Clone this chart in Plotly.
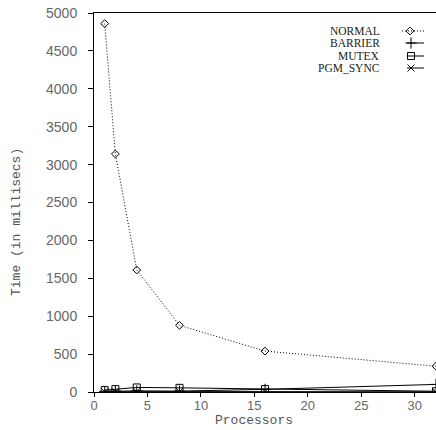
import plotly.graph_objects as go

processors = [1, 2, 4, 8, 16, 32]
series_names = ["NORMAL", "BARRIER", "MUTEX", "PGM_SYNC"]
normal = [4860, 3140, 1610, 880, 540, 340]
barrier = [8, 12, 15, 12, 35, 100]
mutex = [25, 38, 60, 55, 38, 10]
pgm_sync = [3, 4, 6, 5, 5, 3]

styles = {
    "NORMAL": dict(symbol="diamond-open", size=6, dash="1px,2px"),
    "BARRIER": dict(symbol="cross-thin-open", size=8, dash="solid"),
    "MUTEX": dict(symbol="square-open", size=7, dash="solid"),
    "PGM_SYNC": dict(symbol="x-thin-open", size=7, dash="solid"),
}
values = {"NORMAL": normal, "BARRIER": barrier, "MUTEX": mutex, "PGM_SYNC": pgm_sync}

# plot area in pixels
L, R, T, B = 94, 436, 13, 392


def px(xp):
    return (xp - L) / (R - L)


def py(yp):
    return (B - yp) / (B - T)


fig = go.Figure()
for name in series_names:
    st = styles[name]
    fig.add_trace(go.Scatter(
        x=processors, y=values[name], mode="lines+markers", name=name,
        line=dict(color="black", width=1, dash=st["dash"]),
        marker=dict(symbol=st["symbol"], size=st["size"], color="black",
                    line=dict(color="black", width=1)),
        showlegend=False,
    ))

# custom legend (text on the left, sample on the right)
legend_rows = [31, 43, 56, 68]
for name, yy in zip(series_names, legend_rows):
    st = styles[name]
    x0 = 402 if name == "NORMAL" else 407
    fig.add_trace(go.Scatter(
        x=[px(x0), px(424)], y=[py(yy), py(yy)], xaxis="x2", yaxis="y2", mode="lines",
        line=dict(color="black", width=1, dash=st["dash"]), showlegend=False, hoverinfo="skip"))
    fig.add_trace(go.Scatter(
        x=[px(411 if name != "NORMAL" else 410)], y=[py(yy)], xaxis="x2", yaxis="y2",
        mode="markers",
        marker=dict(symbol=st["symbol"], size=st["size"], color="black",
                    line=dict(color="black", width=1)),
        showlegend=False, hoverinfo="skip"))
    fig.add_annotation(x=px(382), y=py(yy), xref="paper", yref="paper", text=name,
                       showarrow=False, xanchor="right", yanchor="middle",
                       font=dict(family="Liberation Serif", size=11.5, color="#222"))

# axis titles placed as in the reference
fig.add_annotation(x=px(16), y=py(222), xref="paper", yref="paper", text="Time (in millisecs)",
                   textangle=-90, showarrow=False, xanchor="center", yanchor="middle",
                   font=dict(family="Liberation Mono", size=13, color="#555"))
fig.add_annotation(x=px(254), y=py(420), xref="paper", yref="paper", text="Processors",
                   showarrow=False, xanchor="center", yanchor="middle",
                   font=dict(family="Liberation Mono", size=13, color="#555"))

fig.update_layout(
    width=436, height=430,
    margin=dict(l=L, r=436 - R, t=T, b=430 - B),
    plot_bgcolor="white", paper_bgcolor="white",
    showlegend=False,
    xaxis=dict(range=[0, 32], dtick=5, showgrid=False, zeroline=False,
               showline=True, linecolor="black", linewidth=1, mirror=True,
               ticks="outside", ticklen=4, tickcolor="black", ticklabelstandoff=-3,
               tickfont=dict(family="Liberation Sans", size=13, color="#666")),
    yaxis=dict(range=[0, 5000], dtick=500, showgrid=False, zeroline=False,
               showline=True, linecolor="black", linewidth=1, mirror=False,
               ticks="outside", ticklen=5, tickcolor="black", ticklabelstandoff=8,
               tickfont=dict(family="Liberation Sans", size=14, color="#666")),
    xaxis2=dict(overlaying="x", range=[0, 1], visible=False, fixedrange=True),
    yaxis2=dict(overlaying="y", range=[0, 1], visible=False, fixedrange=True),
)

fig.write_html("out.html")
